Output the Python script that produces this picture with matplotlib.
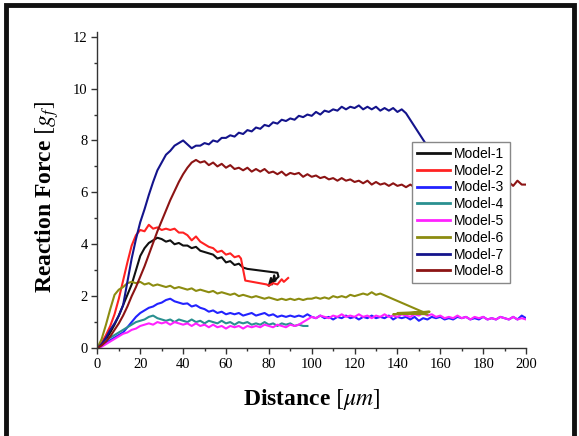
import matplotlib.pyplot as plt
from matplotlib.patches import Rectangle
from matplotlib.ticker import MultipleLocator

plt.rcParams['mathtext.fontset'] = 'stix'

# sample positions along the indentation path [um]
dist = [0, 2, 4, 6, 8, 10, 12, 14, 16, 18,
        20, 22, 24, 26, 28, 30, 32, 34, 36, 38,
        40, 42, 44, 46, 48, 50, 52, 54, 56, 58,
        60, 62, 64, 66, 68, 70, 72, 74, 76, 78,
        80, 82, 84, 86, 88, 90, 92, 94, 96, 98,
        100, 102, 104, 106, 108, 110, 112, 114, 116, 118,
        120, 122, 124, 126, 128, 130, 132, 134, 136, 138,
        140, 142, 144, 146, 148, 150, 152, 154, 156, 158,
        160, 162, 164, 166, 168, 170, 172, 174, 176, 178,
        180, 182, 184, 186, 188, 190, 192, 194, 196, 198,
        200]

labels = ['Model-1', 'Model-2', 'Model-3', 'Model-4',
          'Model-5', 'Model-6', 'Model-7', 'Model-8']
colors = ['#111111', '#ff2222', '#2222ff', '#2a9090',
          '#ff22ff', '#8c8c10', '#14148c', '#8c1414']

# reaction force [gf]
m1_x = dist[:35] + [70, 84, 84.5, 82, 80, 81, 81.5, 82.5, 83]
m1_y = [0.0, 0.15, 0.35, 0.6, 0.9, 1.25, 1.65, 2.05, 2.45, 3.0,
        3.55, 3.85, 4.05, 4.15, 4.25, 4.2, 4.1, 4.15, 4.0, 4.05,
        3.95, 3.95, 3.85, 3.9, 3.75, 3.7, 3.65, 3.6, 3.45, 3.5,
        3.3, 3.35, 3.2, 3.25, 3.1,
        3.05, 2.9, 2.75, 2.55, 2.4, 2.7, 2.45, 2.8, 2.6]

m2_x = dist[:34] + [67, 69, 79, 80, 82, 84, 86, 87, 89]
m2_y = [0.0, 0.2, 0.5, 0.85, 1.3, 1.9, 2.6, 3.3, 3.95, 4.35,
        4.55, 4.5, 4.75, 4.6, 4.65, 4.55, 4.6, 4.55, 4.6, 4.45,
        4.45, 4.35, 4.15, 4.3, 4.1, 4.0, 3.9, 3.85, 3.7, 3.75,
        3.6, 3.65, 3.5, 3.55,
        3.45, 2.6, 2.45, 2.4, 2.5, 2.45, 2.65, 2.55, 2.7]

m3_x = dist
m3_y = [0.0, 0.1, 0.2, 0.3, 0.4, 0.5, 0.6, 0.8, 1.0, 1.2,
        1.35, 1.45, 1.55, 1.6, 1.7, 1.75, 1.85, 1.9, 1.8, 1.75,
        1.7, 1.72, 1.6, 1.65, 1.55, 1.5, 1.4, 1.45, 1.35, 1.4,
        1.3, 1.35, 1.3, 1.35, 1.25, 1.3, 1.35, 1.25, 1.3, 1.35,
        1.25, 1.3, 1.2, 1.25, 1.2, 1.25, 1.2, 1.25, 1.2, 1.3,
        1.2, 1.15, 1.25, 1.15, 1.2, 1.1, 1.2, 1.15, 1.25, 1.15,
        1.2, 1.1, 1.2, 1.15, 1.25, 1.15, 1.2, 1.15, 1.25, 1.1,
        1.2, 1.15, 1.2, 1.1, 1.2, 1.05, 1.15, 1.1, 1.2, 1.15,
        1.2, 1.1, 1.15, 1.1, 1.2, 1.15, 1.2, 1.1, 1.15, 1.1,
        1.2, 1.1, 1.15, 1.1, 1.2, 1.15, 1.1, 1.2, 1.1, 1.25,
        1.15]

m4_x = dist[:50]
m4_y = [0.0, 0.15, 0.3, 0.4, 0.5, 0.6, 0.7, 0.8, 0.9, 1.0,
        1.05, 1.1, 1.2, 1.25, 1.15, 1.1, 1.05, 1.1, 1.0, 1.1,
        1.05, 1.0, 1.1, 1.0, 1.05, 0.95, 1.05, 1.0, 0.95, 1.05,
        0.95, 1.0, 0.9, 1.0, 0.95, 1.0, 0.9, 0.95, 0.9, 1.0,
        0.9, 0.95, 0.85, 0.95, 0.9, 0.95, 0.85, 0.9, 0.85, 0.85]

m5_x = dist
m5_y = [0.0, 0.05, 0.15, 0.25, 0.35, 0.45, 0.55, 0.6, 0.7, 0.75,
        0.85, 0.9, 0.95, 0.9, 1.0, 0.95, 1.0, 0.9, 1.0, 0.95,
        0.9, 0.95, 0.85, 0.95, 0.85, 0.9, 0.8, 0.9, 0.8, 0.85,
        0.75, 0.85, 0.8, 0.85, 0.75, 0.85, 0.8, 0.85, 0.8, 0.9,
        0.85, 0.8, 0.9, 0.85, 0.8, 0.9, 0.85, 0.9, 1.0, 1.1,
        1.2, 1.15, 1.25, 1.2, 1.15, 1.25, 1.2, 1.3, 1.2, 1.25,
        1.2, 1.3, 1.2, 1.25, 1.15, 1.25, 1.2, 1.3, 1.2, 1.25,
        1.2, 1.3, 1.25, 1.2, 1.3, 1.25, 1.35, 1.25, 1.3, 1.2,
        1.25, 1.15, 1.2, 1.15, 1.25, 1.15, 1.2, 1.1, 1.2, 1.15,
        1.2, 1.1, 1.15, 1.1, 1.2, 1.15, 1.1, 1.2, 1.1, 1.15,
        1.1]

m6_x = dist[:67] + [153, 138, 155, 140, 154]
m6_y = [0.0, 0.35, 0.9, 1.5, 2.05, 2.25, 2.35, 2.5, 2.55, 2.5,
        2.55, 2.45, 2.5, 2.4, 2.45, 2.4, 2.35, 2.4, 2.3, 2.35,
        2.3, 2.25, 2.3, 2.2, 2.25, 2.2, 2.15, 2.2, 2.1, 2.15,
        2.1, 2.05, 2.1, 2.0, 2.05, 2.0, 1.95, 2.0, 1.95, 1.9,
        1.95, 1.9, 1.85, 1.9, 1.85, 1.9, 1.85, 1.9, 1.85, 1.9,
        1.9, 1.95, 1.9, 1.95, 1.9, 2.0, 1.95, 2.0, 1.95, 2.05,
        2.0, 2.05, 2.1, 2.05, 2.15, 2.05, 2.1,
        1.35, 1.3, 1.4, 1.35, 1.3]

m7_x = dist[:73] + [153, 162]
m7_y = [0.0, 0.15, 0.4, 0.7, 0.95, 1.25, 1.65, 2.55, 3.45, 4.2,
        4.85, 5.35, 5.9, 6.4, 6.85, 7.15, 7.45, 7.6, 7.8, 7.9,
        8.0, 7.85, 7.7, 7.8, 7.8, 7.9, 7.85, 8.0, 7.95, 8.1,
        8.1, 8.2, 8.15, 8.3, 8.25, 8.4, 8.35, 8.5, 8.45, 8.6,
        8.55, 8.7, 8.65, 8.8, 8.75, 8.85, 8.8, 8.95, 8.9, 9.0,
        8.95, 9.1, 9.0, 9.15, 9.1, 9.2, 9.15, 9.3, 9.2, 9.3,
        9.25, 9.35, 9.2, 9.3, 9.2, 9.3, 9.15, 9.25, 9.15, 9.25,
        9.1, 9.2, 9.05,
        7.9, 6.6]

m8_x = dist
m8_y = [0.0, 0.1, 0.25, 0.45, 0.7, 0.95, 1.25, 1.6, 2.0, 2.35,
        2.75, 3.15, 3.6, 4.05, 4.5, 4.9, 5.3, 5.7, 6.05, 6.4,
        6.7, 6.95, 7.15, 7.25, 7.15, 7.2, 7.05, 7.15, 7.0, 7.1,
        6.95, 7.05, 6.9, 6.95, 6.85, 6.95, 6.8, 6.9, 6.8, 6.9,
        6.75, 6.8, 6.7, 6.8, 6.65, 6.75, 6.7, 6.75, 6.6, 6.7,
        6.6, 6.65, 6.55, 6.6, 6.5, 6.55, 6.45, 6.55, 6.45, 6.5,
        6.4, 6.45, 6.35, 6.45, 6.3, 6.4, 6.3, 6.35, 6.25, 6.35,
        6.25, 6.3, 6.2, 6.3, 6.2, 6.3, 6.25, 6.3, 6.2, 6.3,
        6.25, 6.3, 6.2, 6.3, 6.25, 6.3, 6.2, 6.3, 6.25, 6.35,
        6.25, 6.3, 6.2, 6.35, 6.25, 6.3, 6.4, 6.25, 6.45, 6.3,
        6.3]

xs = [m1_x, m2_x, m3_x, m4_x, m5_x, m6_x, m7_x, m8_x]
ys = [m1_y, m2_y, m3_y, m4_y, m5_y, m6_y, m7_y, m8_y]

fig = plt.figure(figsize=(5.79, 4.36), dpi=100)
ax = fig.add_axes([0.1682, 0.2018, 0.7403, 0.7259])

for x, y, c, lab in zip(xs, ys, colors, labels):
    ax.plot(x, y, color=c, lw=1.5, label=lab)

ax.set_xlim(0, 200)
ax.set_ylim(0, 12.2)
ax.xaxis.set_major_locator(MultipleLocator(20))
ax.xaxis.set_minor_locator(MultipleLocator(10))
ax.yaxis.set_major_locator(MultipleLocator(2))
ax.yaxis.set_minor_locator(MultipleLocator(1))

for s in ['top', 'right']:
    ax.spines[s].set_visible(False)
for s in ['left', 'bottom']:
    ax.spines[s].set_color('#333333')
    ax.spines[s].set_linewidth(1.0)

ax.tick_params(which='major', direction='out', length=4, width=1,
               color='#333333', labelsize=10.5, pad=3)
ax.tick_params(which='minor', direction='out', length=2.5, width=1,
               color='#333333')
for t in ax.get_xticklabels() + ax.get_yticklabels():
    t.set_family('Liberation Serif')

ax.set_xlabel(r'Distance $\left[\mu m\right]$', family='Liberation Serif',
              fontweight='bold', fontsize=17, labelpad=12)
ax.set_ylabel(r'Reaction Force $\left[g_f\right]$', family='Liberation Serif',
              fontweight='bold', fontsize=17)
ax.yaxis.set_label_coords(-0.085, 0.477)

leg = ax.legend(loc='upper left', bbox_to_anchor=(0.734, 0.651),
                borderaxespad=0, prop={'family': 'Liberation Sans', 'size': 10},
                frameon=True, fancybox=False, framealpha=1,
                edgecolor='#888888', handlelength=2.4, handletextpad=0.3,
                labelspacing=0.2, borderpad=0.35)
leg.get_frame().set_linewidth(1.0)
for h in leg.get_lines():
    h.set_linewidth(2.0)

# heavy frame around the whole figure
fig.patches.append(Rectangle((5.5 / 579, -0.03), (574 - 5.5) / 579,
                             1.03 - 5 / 436, transform=fig.transFigure,
                             fill=False, edgecolor='#111111', lw=3.5))

fig.savefig('out.png', dpi=100)
